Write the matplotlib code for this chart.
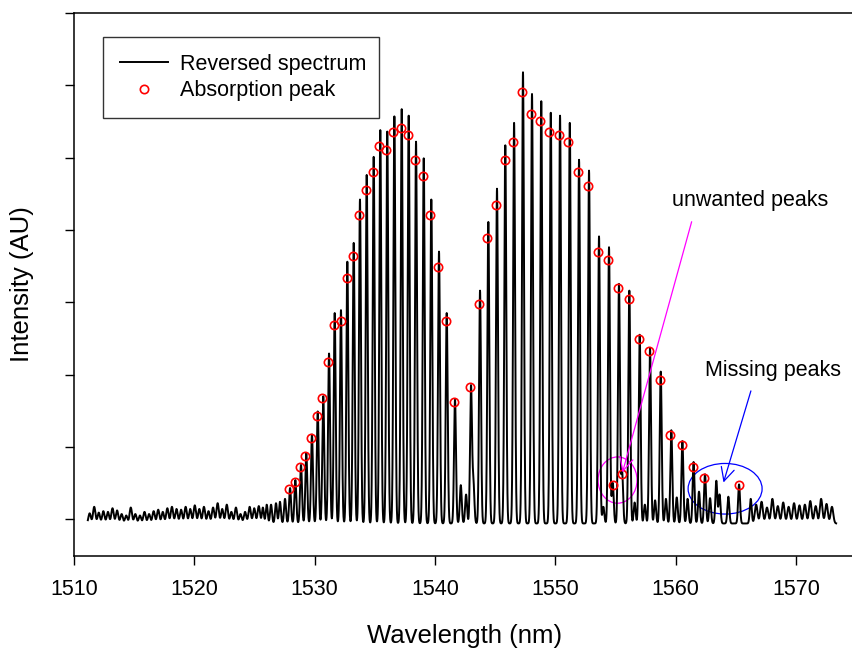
import numpy as np
import matplotlib
matplotlib.use('Agg')
import matplotlib.pyplot as plt
from matplotlib.patches import Ellipse

plt.rcParams['font.family'] = ['Liberation Sans', 'DejaVu Sans']

# main comb lines of the reversed spectrum (nm, AU)
peak_nm = [1526.02, 1526.38, 1526.79, 1527.12, 1527.54, 1527.96, 1528.40, 1528.87, 1529.31, 1529.78,
           1530.26, 1530.72, 1531.20, 1531.67, 1532.19, 1532.72, 1533.25, 1533.77, 1534.33, 1534.91,
           1535.46, 1536.04, 1536.63, 1537.24, 1537.82, 1538.43, 1539.07, 1539.70, 1540.34, 1540.98,
           1541.67, 1542.15, 1542.59,
           1543.00, 1543.75, 1544.44, 1545.16, 1545.85, 1546.58, 1547.32, 1548.07, 1548.84, 1549.63,
           1550.40, 1551.21, 1551.98, 1552.81, 1553.64, 1554.47, 1555.30, 1556.16, 1557.02, 1557.88,
           1558.77, 1559.65, 1560.57, 1561.50, 1562.45, 1563.39, 1564.39, 1565.28, 1566.25]
peak_height = [0.26, 0.26, 0.28, 0.30, 0.34, 0.49, 0.60, 0.81, 0.97, 1.23,
               1.55, 1.76, 2.35, 2.91, 2.95, 3.62, 3.88, 4.48, 4.82, 5.07,
               5.44, 5.42, 5.63, 5.73, 5.64, 5.28, 5.05, 4.48, 3.76, 2.91,
               1.71, 0.53, 0.40,
               1.89, 3.22, 4.17, 4.63, 5.23, 5.54, 6.24, 5.94, 5.84, 5.68,
               5.64, 5.54, 5.03, 4.88, 3.97, 3.82, 3.31, 3.22, 2.61, 2.42,
               2.10, 1.29, 1.14, 0.85, 0.68, 0.59, 0.37, 0.54, 0.34]

# small extra lines (unwanted peaks, shoulders, tail bumps)
minor_nm = [1525.70, 1543.20, 1554.00, 1554.78, 1555.56, 1556.60, 1557.45, 1558.30, 1559.20,
            1560.10, 1561.00, 1561.95, 1562.87, 1563.66]
minor_height = [0.22, 0.55, 0.23, 0.56, 0.71, 0.29, 0.26, 0.32, 0.34,
                0.36, 0.34, 0.44, 0.35, 0.40]

# baseline ripple, left and right of the comb
noise_left_start, noise_left_step = 1511.3, 0.38
noise_left = [0.14, 0.23, 0.15, 0.17, 0.16, 0.21, 0.18, 0.13, 0.11, 0.22,
              0.13, 0.11, 0.16, 0.13, 0.17, 0.19, 0.16, 0.21, 0.23, 0.20,
              0.19, 0.23, 0.20, 0.25, 0.20, 0.23, 0.17, 0.22, 0.28, 0.20,
              0.26, 0.16, 0.22, 0.13, 0.16, 0.23, 0.21, 0.24]
noise_right_start, noise_right_step = 1566.7, 0.45
noise_right = [0.26, 0.30, 0.22, 0.34, 0.24, 0.29, 0.23, 0.28, 0.25, 0.26,
               0.31, 0.24, 0.34, 0.27, 0.23]

# detected absorption peaks (red circles)
abs_nm = [1527.90, 1528.37, 1528.81, 1529.23, 1529.70, 1530.20, 1530.64, 1531.14, 1531.64, 1532.17,
          1532.67, 1533.19, 1533.69, 1534.27, 1534.86, 1535.38, 1535.96, 1536.54, 1537.18, 1537.74,
          1538.37, 1538.99, 1539.62, 1540.28, 1540.92, 1541.59,
          1542.94, 1543.67, 1544.36, 1545.08, 1545.80, 1546.52, 1547.27, 1547.99, 1548.74, 1549.51,
          1550.32, 1551.09, 1551.92, 1552.75, 1553.56, 1554.36, 1554.78, 1555.25, 1555.55, 1556.11,
          1556.94, 1557.82, 1558.69, 1559.57, 1560.52, 1561.46, 1562.37, 1565.28]
abs_height = [0.41, 0.52, 0.72, 0.87, 1.12, 1.42, 1.67, 2.18, 2.68, 2.74,
              3.34, 3.64, 4.20, 4.55, 4.80, 5.16, 5.10, 5.36, 5.41, 5.31,
              4.96, 4.75, 4.20, 3.49, 2.74, 1.62,
              1.83, 2.98, 3.89, 4.35, 4.96, 5.21, 5.91, 5.61, 5.51, 5.36,
              5.31, 5.21, 4.80, 4.61, 3.70, 3.59, 0.47, 3.19, 0.62, 3.04,
              2.49, 2.33, 1.93, 1.17, 1.02, 0.72, 0.57, 0.47]

baseline = -0.06
sigma = 0.08

wl = np.arange(1511.15, 1573.36, 0.01)


def add_lines(y, centers, heights, width):
    for c, h in zip(centers, heights):
        y += h * np.exp(-0.5 * ((wl - c) / width) ** 2)
    return y


spectrum = np.full_like(wl, baseline)
spectrum = add_lines(spectrum, peak_nm, peak_height, sigma)
spectrum = add_lines(spectrum, minor_nm, minor_height, 0.08)
left_pos = noise_left_start + noise_left_step * np.arange(len(noise_left))
right_pos = noise_right_start + noise_right_step * np.arange(len(noise_right))
spectrum = add_lines(spectrum, left_pos, noise_left, 0.1)
spectrum = add_lines(spectrum, right_pos, noise_right, 0.11)

fig = plt.figure(figsize=(8.53, 6.5), dpi=100)
ax = fig.add_axes([74 / 853, 94 / 650, 782 / 853, 543 / 650])

ax.plot(wl, spectrum, color='black', lw=1.4, label='Reversed spectrum')
ax.plot(abs_nm, abs_height, 'o', mfc='none', mec='red', ms=6, mew=1.2,
        label='Absorption peak')

# annotations
ax.add_patch(Ellipse((1555.18, 0.54), 3.24, 0.64, fill=False, ec='magenta', lw=0.9))
ax.add_patch(Ellipse((1564.12, 0.42), 6.15, 0.70, fill=False, ec='blue', lw=0.9))
ax.annotate('', xy=(1555.53, 0.61), xytext=(1561.40, 4.15),
            arrowprops=dict(arrowstyle='->', color='magenta', lw=0.9, mutation_scale=24))
ax.annotate('', xy=(1563.92, 0.47), xytext=(1566.33, 1.81),
            arrowprops=dict(arrowstyle='->', color='blue', lw=0.9, mutation_scale=24))
ax.text(1566.23, 4.41, 'unwanted peaks', fontsize=15.5, ha='center', va='center')
ax.text(1568.06, 2.06, 'Missing peaks', fontsize=15.5, ha='center', va='center')

ax.set_xlim(1510, 1575)
ax.set_ylim(-0.51, 7.0)
ax.set_xticks([1510, 1520, 1530, 1540, 1550, 1560, 1570])
ax.set_yticks(range(0, 8))
ax.set_yticklabels([])
ax.tick_params(direction='out', length=6.5, width=1, labelsize=15.5, pad=10)
ax.spines['right'].set_visible(False)
for s in ['left', 'bottom', 'top']:
    ax.spines[s].set_linewidth(1.1)

ax.set_xlabel('Wavelength (nm)', fontsize=18.5, labelpad=17)
ax.set_ylabel('Intensity (AU)', fontsize=18.5, labelpad=12)

leg = ax.legend(loc='upper left', bbox_to_anchor=(29 / 782, 519.5 / 543, 276 / 782, 0),
                mode='expand', borderaxespad=0, fontsize=15.5, frameon=True, fancybox=False,
                handlelength=2.2, handletextpad=0.6, borderpad=0.8, labelspacing=0.25)
leg.get_frame().set_edgecolor('black')
leg.get_frame().set_linewidth(1.0)

fig.savefig('out.png', dpi=100)
